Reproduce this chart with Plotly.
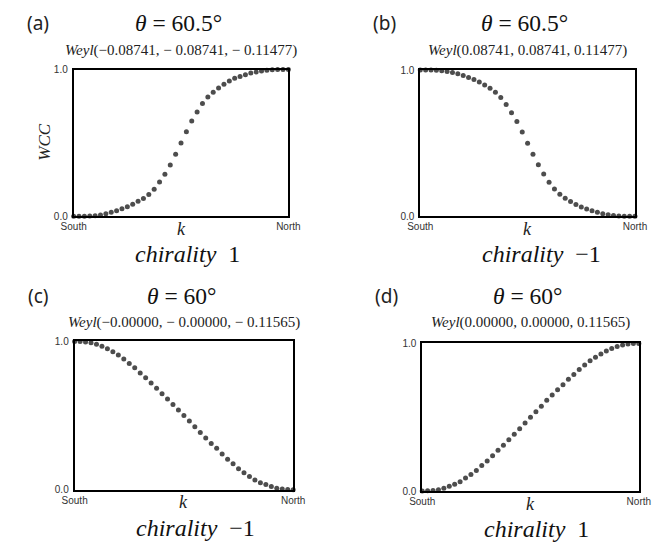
import plotly.graph_objects as go

K = list(range(41))  # k-points from South to North

WCC_A = [0.000,0.000,0.000,0.002,0.004,0.009,0.018,0.027,0.038,0.051,0.065,
         0.082,0.102,0.122,0.149,0.185,0.234,0.287,0.350,0.423,0.499,
         0.577,0.650,0.710,0.768,0.813,0.846,0.875,0.900,0.922,0.940,
         0.953,0.964,0.976,0.984,0.991,0.996,0.998,1.000,1.000,1.000]
WCC_B = [1.000,1.000,1.000,0.998,0.995,0.990,0.983,0.974,0.962,0.949,0.936,
         0.918,0.897,0.875,0.848,0.812,0.764,0.708,0.648,0.576,0.500,
         0.424,0.352,0.289,0.232,0.186,0.151,0.124,0.101,0.080,0.063,
         0.050,0.037,0.027,0.018,0.010,0.005,0.002,0.000,0.000,0.000]
WCC_C = [1.000,1.000,0.997,0.991,0.982,0.968,0.951,0.930,0.908,0.881,0.852,
         0.822,0.788,0.755,0.720,0.684,0.648,0.612,0.574,0.537,0.500,
         0.463,0.425,0.386,0.349,0.312,0.279,0.241,0.206,0.174,0.141,
         0.114,0.089,0.066,0.047,0.034,0.021,0.010,0.004,0.001,0.000]
WCC_D = [0.000,0.002,0.004,0.009,0.020,0.033,0.046,0.064,0.088,0.113,0.139,
         0.173,0.204,0.239,0.277,0.310,0.347,0.385,0.423,0.462,0.500,
         0.538,0.575,0.615,0.650,0.686,0.721,0.757,0.790,0.823,0.854,
         0.883,0.907,0.929,0.949,0.965,0.980,0.989,0.996,1.000,1.000]

LABELS = ["(a)", "(b)", "(c)", "(d)"]
THETAS = ["60.5°", "60.5°", "60°", "60°"]
WEYLS = ["−0.08741, − 0.08741, − 0.11477",
         "0.08741, 0.08741, 0.11477",
         "−0.00000, − 0.00000, − 0.11565",
         "0.00000, 0.00000, 0.11565"]
CHIRALITY = ["1", "−1", "−1", "1"]
X_TICKS = ["South", "North"]
Y_TICKS = ["0.0", "1.0"]
SERIES = [WCC_A, WCC_B, WCC_C, WCC_D]

W, H = 672, 547
# plot boxes in pixels: (left, right, top, bottom)
BOXES = [(63, 286, 65, 215), (423, 646, 65.5, 215),
         (64, 291, 343, 494.5), (425, 650, 345, 496)]

def px(x):
    return x / W

def py(y):
    return 1 - y / H

fig = go.Figure()
SERIF = "Liberation Serif"
SANS = "Noto Sans"

for i, (vals, box) in enumerate(zip(SERIES, BOXES)):
    n = i + 1
    xa = "x" if n == 1 else f"x{n}"
    ya = "y" if n == 1 else f"y{n}"
    fig.add_trace(go.Scatter(x=K, y=vals, mode="markers", xaxis=xa, yaxis=ya,
                             marker=dict(size=5, color="#4d4d4d"),
                             cliponaxis=False, showlegend=False))
    l, r, t, b = box
    axkey = "xaxis" if n == 1 else f"xaxis{n}"
    aykey = "yaxis" if n == 1 else f"yaxis{n}"
    fig.layout[axkey] = dict(domain=[px(l), px(r)], range=[0, 40], anchor=ya,
                             showgrid=False, zeroline=False, showline=True,
                             mirror=True, linecolor="black", linewidth=1.8,
                             tickvals=[0, 40], ticktext=X_TICKS, ticks="",
                             tickfont=dict(family="Liberation Sans", size=10, color="#333"),
                             ticklabelstandoff=0)
    fig.layout[aykey] = dict(domain=[py(b), py(t)], range=[0, 1], anchor=xa,
                             showgrid=False, zeroline=False, showline=True,
                             mirror=True, linecolor="black", linewidth=1.8,
                             tickvals=[0, 1], ticktext=Y_TICKS, ticks="",
                             tickfont=dict(family="Liberation Sans", size=10, color="#333"),
                             ticklabelstandoff=2)

    cx = (l + r) / 2
    top_y = 17 if i < 2 else 297
    weyl_y = 45 if i < 2 else 324
    ann = fig.add_annotation
    ann(x=px(l - 37), y=py(top_y), xref="paper", yref="paper", showarrow=False,
        text=LABELS[i], font=dict(family=SANS, size=19, color="#222"),
        xanchor="center", yanchor="middle")
    ann(x=px(cx - 3), y=py(top_y), xref="paper", yref="paper", showarrow=False,
        text=f"<i>θ</i> = {THETAS[i]}", font=dict(family=SERIF, size=23.5, color="#111"),
        xanchor="center", yanchor="middle")
    ann(x=px(cx), y=py(weyl_y), xref="paper", yref="paper", showarrow=False,
        text=f"<i>Weyl</i>({WEYLS[i]})", font=dict(family=SERIF, size=15, color="#222"),
        xanchor="center", yanchor="middle")
    ann(x=px(cx), y=py(b + 13), xref="paper", yref="paper", showarrow=False,
        text="<i>k</i>", font=dict(family=SERIF, size=18, color="#222"),
        xanchor="center", yanchor="middle")
    chi_x = l + 62
    chi_y = b + 39
    ann(x=px(chi_x), y=py(chi_y), xref="paper", yref="paper", showarrow=False,
        text=f"<i>chirality</i>  {CHIRALITY[i]}", font=dict(family=SERIF, size=24, color="#111"),
        xanchor="left", yanchor="middle")

fig.add_annotation(x=px(33), y=py(139), xref="paper", yref="paper", showarrow=False,
                   text="<i>WCC</i>", textangle=-90,
                   font=dict(family=SERIF, size=17, color="#222"),
                   xanchor="center", yanchor="middle")

fig.update_layout(width=W, height=H, margin=dict(l=0, r=0, t=0, b=0),
                  paper_bgcolor="white", plot_bgcolor="white", showlegend=False)

fig.write_html("out.html", config={"displayModeBar": False},
               post_script="document.body.style.margin='0';document.body.style.overflow='hidden';")
